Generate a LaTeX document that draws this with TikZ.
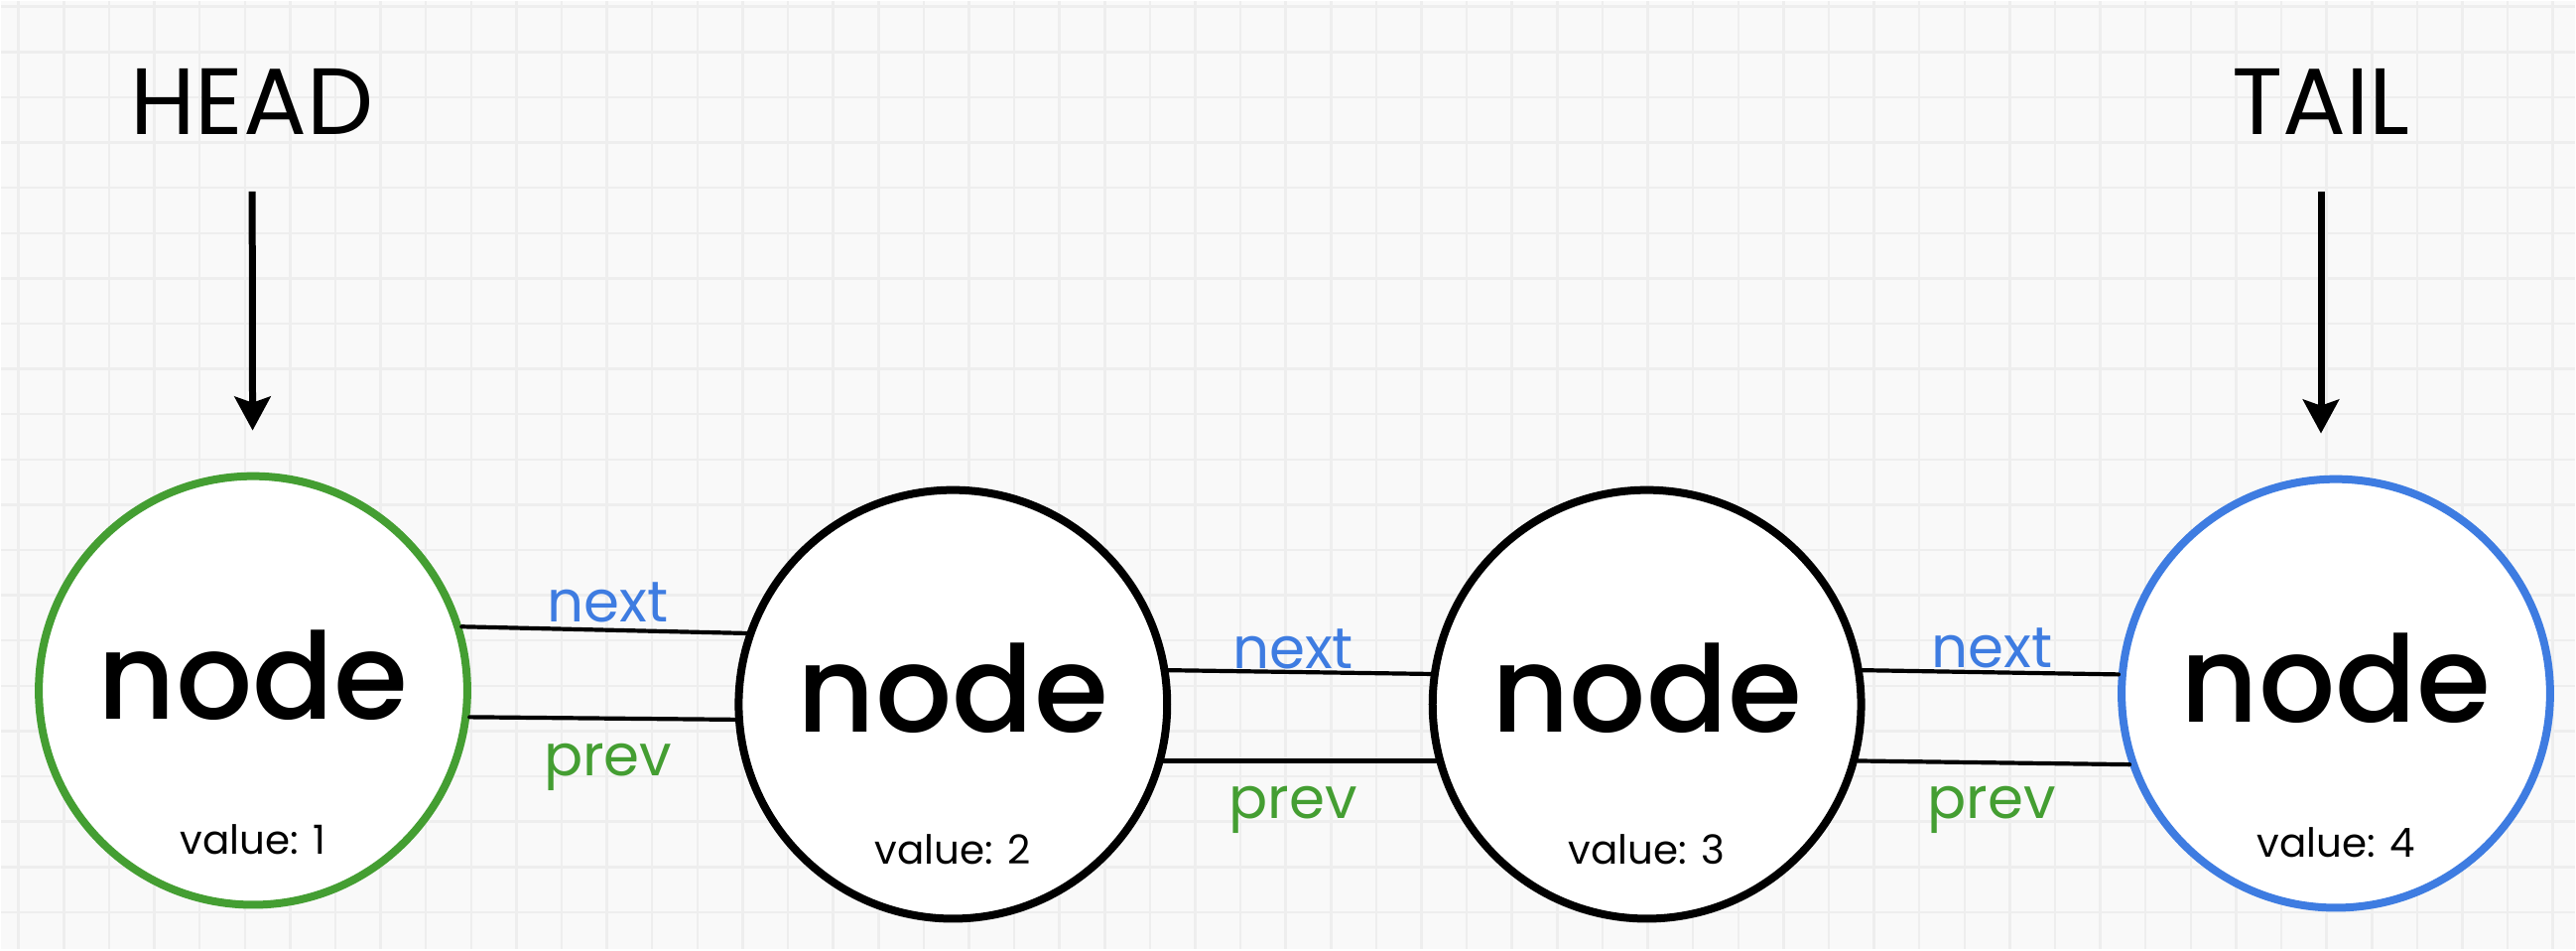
\documentclass[tikz,border=0pt]{standalone}
\usepackage{fontspec}
\setmainfont{Poppins}
\newfontfamily\nodefont{Poppins Medium}
\usetikzlibrary{arrows.meta}

\definecolor{headgreen}{RGB}{68,158,50}
\definecolor{tailblue}{RGB}{62,124,225}
\definecolor{paper}{RGB}{249,249,249}
\definecolor{gridgray}{RGB}{238,238,238}

\begin{document}
\begin{tikzpicture}[x=0.01cm,y=-0.01cm,
  listnode/.style={circle,draw=black,line width=0.08cm,fill=white,minimum size=4.32cm,inner sep=0pt},
  headnode/.style={listnode,draw=headgreen},
  tailnode/.style={listnode,draw=tailblue},
  word/.style={font=\nodefont\fontsize{34.5}{38}\selectfont,anchor=base,inner sep=0pt},
  val/.style={font=\fontsize{11.5}{13}\selectfont,anchor=base,inner sep=0pt},
  ptr/.style={font=\fontsize{27}{30}\selectfont,inner sep=0pt},
  link/.style={line width=0.042cm,line cap=round},
  nextlbl/.style={font=\fontsize{16.5}{18}\selectfont,text=tailblue,anchor=base,inner sep=0pt},
  prevlbl/.style={font=\fontsize{16.5}{18}\selectfont,text=headgreen,anchor=base,inner sep=0pt},
  marker/.style={line width=0.07cm,-{Stealth[length=0.34cm,width=0.36cm,inset=0.06cm]}},
  gridline/.style={draw=gridgray,line width=0.025cm}
]
% background paper with grid
\fill[paper] (0,0) rectangle (2596,956);
\foreach \i in {0,...,56} \draw[gridline] ({17.5+45.65*\i},0) -- ({17.5+45.65*\i},956);
\foreach \j in {0,...,20} \draw[gridline] (0,{5.5+45.65*\j}) -- (2596,{5.5+45.65*\j});
\useasboundingbox (0,0) rectangle (2596,956);

% list nodes
\node[headnode] (n1) at (254,695) {};
\node[listnode] (n2) at (960,709) {};
\node[listnode] (n3) at (1660,709) {};
\node[tailnode] (n4) at (2355,698) {};

\node[word] (w1) at (254,724) {node};
\node[word] (w2) at (960,737) {node};
\node[word] (w3) at (1660,737) {node};
\node[word] (w4) at (2355,727) {node};

\node[val] (v1) at (254,860) {value: 1};
\node[val] (v2) at (960,870) {value: 2};
\node[val] (v3) at (1660,870) {value: 3};
\node[val] (v4) at (2355,863) {value: 4};

% head / tail pointers
\node[ptr] (hd) at (253,101) {HEAD};
\node[ptr] (tl) at (2340,101) {TAIL};
\draw[marker,shorten <=0.57cm,shorten >=0.42cm] (hd) -- (n1);
\draw[marker,shorten <=0.57cm,shorten >=0.42cm] (tl) -- (tl |- n4.north);

% next / prev links
\draw[link] (n1.17) -- (n2.161);
\draw[link] (n1.-7) -- (n2.184);
\draw[link] (n2.9) -- (n3.172);
\draw[link] (n2.-15) -- (n3.195);
\draw[link] (n3.9) -- (n4.175);
\draw[link] (n3.-15) -- (n4.199);

\node[nextlbl] (x1) at (612,626) {next};
\node[prevlbl] (p1) at (612,781) {prev};
\node[nextlbl] (x2) at (1303,673) {next};
\node[prevlbl] (p2) at (1303,824) {prev};
\node[nextlbl] (x3) at (2008,672) {next};
\node[prevlbl] (p3) at (2008,824) {prev};
\end{tikzpicture}
\end{document}
